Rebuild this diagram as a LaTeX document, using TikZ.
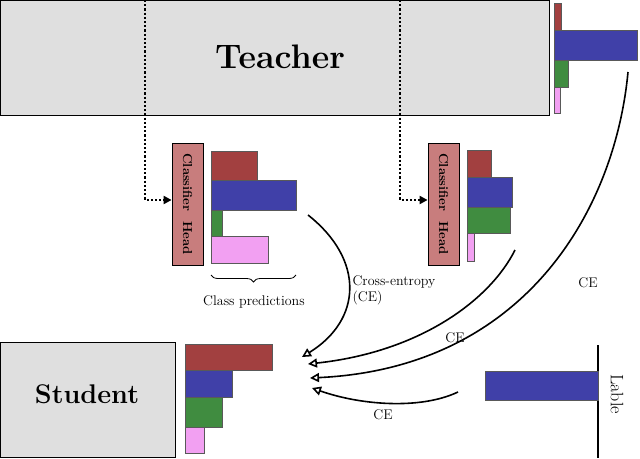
\documentclass[tikz,border=0pt]{standalone}
\usetikzlibrary{arrows.meta,decorations.pathreplacing}
\definecolor{cred}{RGB}{162,64,64}
\definecolor{cblue}{RGB}{64,64,168}
\definecolor{cgreen}{RGB}{64,140,64}
\definecolor{cpink}{RGB}{242,160,242}
\definecolor{chead}{RGB}{200,125,125}
\tikzset{
  box/.style  = {draw, thick, fill=gray!25, inner sep=0pt},
  head/.style = {draw, thick, fill=chead, inner sep=0pt},
  ce/.style   = {draw, line width=1.6pt, -{Triangle[open,length=9pt,width=9pt]}},
  feed/.style = {draw, line width=2.2pt, dotted, -{Triangle[length=8pt,width=8pt]}},
  lbl/.style  = {font=\fontsize{14}{16}\selectfont}
}
\begin{document}
\begin{tikzpicture}[x=1pt,y=-1pt]
\useasboundingbox (0,0) rectangle (640,458);
% teacher
\draw[box] (0.5,0.5) rectangle (549,115);
\node[font=\bfseries\fontsize{34}{36}\selectfont] (teacher) at (280,57) {Teacher};
\fill[cred,draw=gray!70!black] (554,3) rectangle (561,30);
\fill[cblue,draw=gray!70!black] (554,30) rectangle (637,60);
\fill[cgreen,draw=gray!70!black] (554,60) rectangle (568,87);
\fill[cpink,draw=gray!70!black] (554,87) rectangle (560,113);
% classifier heads
\node[head, minimum width=31pt, minimum height=122pt] (h1) at (187.5,204) {};
\node[rotate=-90, font=\bfseries\fontsize{13}{15}\selectfont] at (h1) {Classifier\ \ Head};
\node[head, minimum width=31pt, minimum height=122pt] (h2) at (443.5,204) {};
\node[rotate=-90, font=\bfseries\fontsize{13}{15}\selectfont] at (h2) {Classifier\ \ Head};
\coordinate (t1) at (145,0);
\coordinate (t2) at (400,0);
\draw[feed] (t1) -- (145,200) -- (h1.west |- 0,200);
\draw[feed] (t2) -- (400,200) -- (h2.west |- 0,200);
% bars 1
\fill[cred,draw=gray!70!black] (211,151) rectangle (257,180);
\fill[cblue,draw=gray!70!black] (211,180) rectangle (296,210);
\fill[cgreen,draw=gray!70!black] (211,210) rectangle (222,236);
\fill[cpink,draw=gray!70!black] (211,236) rectangle (268,263);
\draw[thick,decorate,decoration={brace,amplitude=7pt}] (296,275) -- (211,275);
\node[lbl] (cp) at (254,302) {Class predictions};
% bars 2
\fill[cred,draw=gray!70!black] (467,150) rectangle (491,177);
\fill[cblue,draw=gray!70!black] (467,177) rectangle (512,207);
\fill[cgreen,draw=gray!70!black] (467,207) rectangle (510,233);
\fill[cpink,draw=gray!70!black] (467,233) rectangle (474,261);
% student
\draw[box] (0.5,342) rectangle (175,457.5);
\node[font=\bfseries\fontsize{27}{29}\selectfont] (student) at (87,394) {Student};
\fill[cred,draw=gray!70!black] (185,344) rectangle (272,370);
\fill[cblue,draw=gray!70!black] (185,370) rectangle (232,397);
\fill[cgreen,draw=gray!70!black] (185,397) rectangle (222,427);
\fill[cpink,draw=gray!70!black] (185,427) rectangle (204,453);
% label
\coordinate (l1) at (598,345);
\coordinate (l2) at (598,458);
\draw[line width=1.6pt] (l1) -- (l2);
\fill[cblue,draw=gray!70!black] (485,371) rectangle (598,400);
\node[rotate=-90, font=\fontsize{18}{20}\selectfont] (lable) at (617,394) {Lable};
% CE arrows
\coordinate (s1) at (308,215);
\coordinate (e1) at (302,357);
\coordinate (s2) at (515,250);
\coordinate (e2) at (308,364);
\coordinate (s3) at (628,72);
\coordinate (e3) at (310,378);
\coordinate (s4) at (458,392);
\coordinate (e4) at (312,388);
\draw[ce] (s1) .. controls (365,260) and (362,320) .. (e1);
\draw[ce] (s2) .. controls (490,300) and (420,352) .. (e2);
\draw[ce] (s3) .. controls (615,210) and (525,368) .. (e3);
\draw[ce] (s4) .. controls (420,410) and (360,405) .. (e4);
\node[lbl, align=left, anchor=west] at (349,290) {Cross-entropy\\(CE)};
\node[lbl] at (455,338) {CE};
\node[lbl] at (588,283) {CE};
\node[lbl] at (383,415) {CE};
\end{tikzpicture}
\end{document}
